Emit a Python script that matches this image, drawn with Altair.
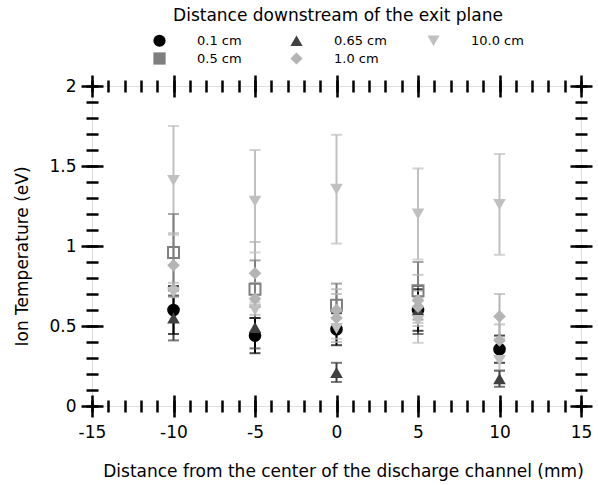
import altair as alt
import pandas as pd

# Radial positions across the channel (mm)
x_pos = [-10, -5, 0, 5, 10]

# Ion temperature (eV) and its uncertainty for each axial station
t_01 = [0.60, 0.44, 0.48, 0.60, 0.355]
e_01 = [0.15, 0.11, 0.10, 0.13, 0.085]

t_05 = [0.96, 0.73, 0.63, 0.72, None]
e_05 = [0.24, 0.18, 0.135, 0.18, None]

t_065 = [0.55, 0.49, 0.21, 0.60, 0.17]
e_065 = [0.14, 0.13, 0.06, 0.15, 0.05]

t_10 = [0.88, 0.83, 0.60, 0.66, 0.56]
e_10 = [0.20, 0.195, 0.13, 0.16, 0.14]

t_100 = [1.41, 1.28, 1.355, 1.20, 1.26]
e_100 = [0.34, 0.32, 0.34, 0.285, 0.315]

t_dia = [0.73, 0.67, 0.55, 0.62, 0.41]
e_dia = [0.04, 0.10, 0.15, 0.10, 0.10]

t_tri = [0.71, 0.60, 0.485, 0.535, 0.285]
e_tri = [0.025, 0.05, 0.065, 0.14, 0.06]

series = {
    "0.1 cm": (t_01, e_01),
    "0.5 cm": (t_05, e_05),
    "0.65 cm": (t_065, e_065),
    "1.0 cm": (t_10, e_10),
    "diamond-b": (t_dia, e_dia),
    "triangle-b": (t_tri, e_tri),
    "10.0 cm": (t_100, e_100),
}
keys = list(series.keys())
colors = ["#000000", "#7f7f7f", "#404040", "#b4b4b4", "#b4b4b4", "#c0c0c0", "#c0c0c0"]
shapes = ["circle", "square", "triangle-up", "diamond", "diamond", "triangle-down", "triangle-down"]
legend_order = ["0.1 cm", "0.65 cm", "10.0 cm", "0.5 cm", "1.0 cm"]

rows = []
for rank, (key, (vals, errs)) in enumerate(series.items()):
    for xv, v, e in zip(x_pos, vals, errs):
        if v is None:
            continue
        rows.append({"x": xv, "t": v, "lo": v - e, "hi": v + e, "key": key, "rank": rank})
df = pd.DataFrame(rows)

FONT = "DejaVu Sans"
x_major = list(range(-15, 16, 5))
x_minor = list(range(-15, 16))
y_major = [0, 0.5, 1, 1.5, 2]
y_minor = [round(i * 0.1, 1) for i in range(21)]

xs = alt.Scale(domain=[-15, 15], nice=False, zero=False)
ys = alt.Scale(domain=[0, 2], nice=False, zero=False)
cs = alt.Scale(domain=keys, range=colors)
ss = alt.Scale(domain=keys, range=shapes)
# same mapping listed in reverse, used by the error bars (kept apart from the legend)
cs_bars = alt.Scale(domain=keys[::-1], range=colors[::-1])


def ax(orient, values, size, **kw):
    opts = dict(
        orient=orient, values=values, tickSize=size, offset=-size / 2,
        domain=False, grid=False, ticks=True, tickColor="black", tickWidth=2.5,
        labels=False, title=None,
    )
    opts.update(kw)
    return alt.Axis(**opts)


label_style = dict(
    labels=True, labelFont=FONT, labelFontSize=17, labelColor="black",
    labelFlush=False, labelOverlap=False, labelExpr="toString(datum.value)",
)
title_style = dict(titleFont=FONT, titleFontSize=17, titleFontWeight="normal",
                   titleColor="black", titleBaseline="alphabetic", titleAlign="center")

ax_bottom = ax("bottom", x_major, 22, labelPadding=7,
               title="Distance from the center of the discharge channel (mm)",
               titleX=251, titleY=81, **label_style, **title_style)
ax_bottom_minor = ax("bottom", x_minor, 12)
ax_top = ax("top", x_major, 22)
ax_top_minor = ax("top", x_minor, 12)

ay_left = ax("left", y_major, 22, labelPadding=5,
             title="Ion Temperature (eV)", titleX=-76, titleY=170, titleAngle=270,
             **label_style, **title_style)
ay_left_minor = ax("left", y_minor, 12)
ay_right = ax("right", y_major, 22)
ay_right_minor = ax("right", y_minor, 12)

legend = alt.Legend(
    title="Distance downstream of the exit plane", values=legend_order,
    orient="none", legendX=61, legendY=-78, direction="horizontal", columns=3,
    titleFont=FONT, titleFontSize=17, titleFontWeight="normal", titleColor="black",
    titleAnchor="middle", titlePadding=9, titleLimit=600,
    labelFont=FONT, labelFontSize=13, labelColor="black", labelOffset=31,
    symbolSize=150, symbolStrokeWidth=0, columnPadding=40, rowPadding=4,
    gridAlign="all", padding=0,
)

base = alt.Chart(df)

bars = base.mark_rule(strokeWidth=2).encode(
    x=alt.X("x:Q", scale=xs, axis=ax_bottom),
    y=alt.Y("lo:Q", scale=ys, axis=ay_left),
    y2="hi:Q",
    stroke=alt.Stroke("key:N", scale=cs_bars, legend=None),
    order=alt.Order("rank:Q", sort="descending"),
)

caps = base.transform_fold(["lo", "hi"], as_=["end", "yv"]).mark_tick(
    orient="horizontal", thickness=2, size=11
).encode(
    x=alt.X("x:Q", scale=xs, axis=ax_bottom_minor),
    y=alt.Y("yv:Q", scale=ys, axis=ay_left_minor),
    fill=alt.Fill("key:N", scale=cs_bars, legend=None),
    order=alt.Order("rank:Q", sort="descending"),
)

hollow = base.transform_filter(alt.datum.key == "0.5 cm").mark_point(
    filled=False, size=120, strokeWidth=2, opacity=1, shape="square"
).encode(
    x=alt.X("x:Q", scale=xs, axis=ax_top_minor),
    y=alt.Y("t:Q", scale=ys, axis=ay_right_minor),
    stroke=alt.Stroke("key:N", scale=cs_bars, legend=None),
)

filled = base.transform_filter(alt.datum.key != "0.5 cm").mark_point(
    filled=True, size=160, opacity=1
).encode(
    x=alt.X("x:Q", scale=xs, axis=ax_top),
    y=alt.Y("t:Q", scale=ys, axis=ay_right),
    color=alt.Color("key:N", scale=cs, legend=legend),
    shape=alt.Shape("key:N", scale=ss, legend=legend),
    order=alt.Order("rank:Q"),
)

chart = alt.layer(bars, caps, hollow, filled).resolve_axis(
    x="independent", y="independent"
).properties(
    width=489, height=320,
    padding={"left": 92, "top": 86, "right": 17, "bottom": 79},
    autosize=alt.AutoSizeParams(type="none"),
).configure_view(stroke="black", strokeWidth=2.5).configure(background="white")

chart.save("out.html", embed_options={"renderer": "svg", "actions": False})
